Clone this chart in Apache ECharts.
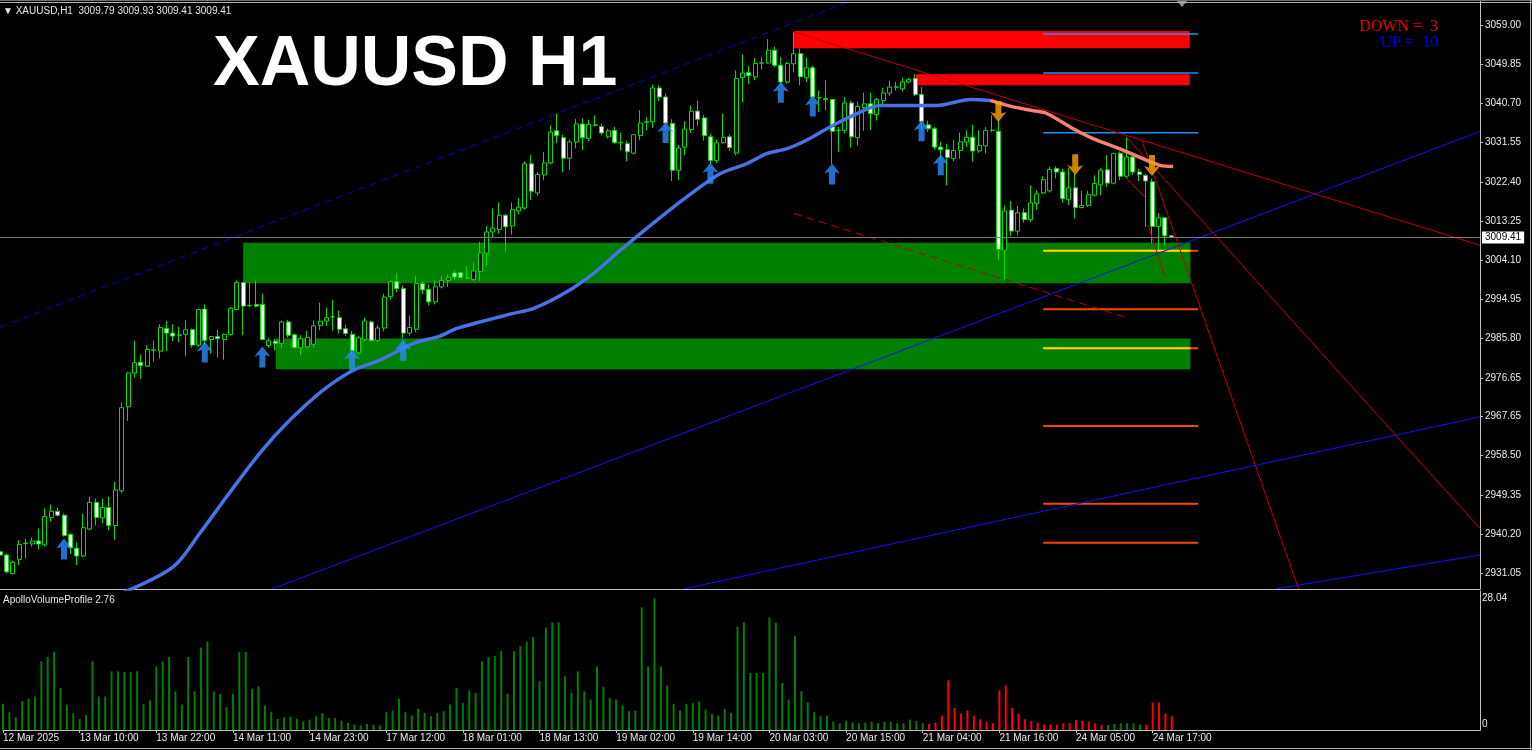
<!DOCTYPE html>
<html><head><meta charset="utf-8">
<script src="https://cdn.jsdelivr.net/npm/echarts@6/dist/echarts.min.js"></script>
<style>html,body{margin:0;padding:0;background:#000;}#c{width:1532px;height:750px;}</style>
</head><body><div id="c"></div>
<script>
// ---------- data ----------
const tickLabels = ['12 Mar 2025','13 Mar 10:00','13 Mar 22:00','14 Mar 11:00','14 Mar 23:00','17 Mar 12:00','18 Mar 01:00','18 Mar 13:00','19 Mar 02:00','19 Mar 14:00','20 Mar 03:00','20 Mar 15:00','21 Mar 04:00','21 Mar 16:00','24 Mar 05:00','24 Mar 17:00'];
const tickIdx = [0,12,24,36,48,60,72,84,96,108,120,132,144,156,168,180];
const priceTicks = [3059.00,3049.85,3040.70,3031.55,3022.40,3013.25,3004.10,2994.95,2985.80,2976.65,2967.65,2958.50,2949.35,2940.20,2931.05];
const volTicks = [0, 28.04];
const symbolName = 'XAUUSD,H1';
const lastBar = [3009.79, 3009.93, 3009.41, 3009.41];
const bidPrice = 3009.41;
const downCount = 3, upCount = 10;

// [open, high, low, close] per H1 bar
const ohlc = [
[2936.1,2937.0,2934.5,2935.3],[2935.3,2935.7,2931.0,2931.4],[2931.0,2934.0,2930.8,2933.6],[2934.3,2938.8,2933.0,2937.8],[2938.0,2939.2,2934.5,2938.1],
[2937.9,2939.4,2937.3,2938.6],[2938.6,2941.5,2936.6,2937.9],[2937.7,2946.2,2937.3,2944.3],[2944.1,2947.1,2943.1,2945.5],[2945.5,2946.4,2944.3,2944.6],
[2944.6,2945.0,2939.6,2939.9],[2940.1,2940.4,2935.5,2937.0],[2936.9,2938.2,2933.0,2935.1],[2935.1,2944.9,2934.8,2941.7],[2941.4,2948.9,2941.1,2947.6],
[2947.6,2948.5,2942.2,2944.1],[2944.0,2948.5,2942.7,2946.4],[2946.4,2948.9,2941.1,2942.2],[2942.2,2952.4,2938.9,2950.5],[2950.3,2971.0,2949.8,2969.7],
[2969.9,2978.0,2966.6,2977.8],[2977.8,2985.3,2976.7,2980.2],[2980.3,2982.1,2976.4,2979.5],[2979.4,2984.3,2979.2,2983.3],[2983.1,2985.4,2980.4,2983.2],
[2982.9,2989.2,2981.2,2988.4],[2988.2,2989.95,2982.9,2987.1],[2987.1,2989.2,2985.2,2986.4],[2986.6,2988.6,2985.0,2986.7],[2986.8,2990.1,2981.7,2987.9],
[2987.9,2988.2,2983.7,2984.3],[2984.3,2992.8,2983.9,2992.6],[2992.7,2993.8,2984.4,2985.4],[2985.6,2986.4,2982.3,2986.3],[2986.3,2987.8,2981.4,2985.8],
[2985.6,2987.0,2980.9,2986.8],[2986.8,2993.2,2986.5,2992.9],[2992.6,2999.4,2992.5,2998.9],[2998.9,2999.0,2986.6,2993.4],[2993.6,2999.0,2993.2,2993.5],
[2993.8,2999.6,2993.1,2993.4],[2993.8,2996.3,2985.4,2985.6],[2984.2,2986.0,2983.6,2985.3],[2985.2,2985.8,2983.1,2984.7],[2984.7,2990.0,2983.6,2989.7],
[2989.7,2990.2,2986.0,2986.6],[2986.7,2987.0,2983.5,2983.7],[2983.7,2986.6,2982.0,2985.8],[2983.9,2987.6,2983.5,2986.1],[2984.5,2990.1,2983.7,2988.8],
[2988.9,2994.2,2987.8,2989.9],[2989.9,2993.1,2988.8,2990.7],[2990.9,2994.8,2987.7,2990.9],[2990.7,2992.3,2987.0,2988.0],[2988.1,2989.0,2986.4,2987.0],
[2986.8,2987.6,2982.2,2983.0],[2982.5,2986.4,2982.1,2986.0],[2985.6,2990.7,2985.2,2989.9],[2989.7,2990.0,2985.0,2985.4],[2985.4,2989.0,2985.0,2988.3],
[2988.3,2996.3,2987.5,2995.5],[2995.6,2999.4,2995.0,2999.1],[2999.1,3001.1,2996.6,2997.5],[2997.5,2998.2,2985.8,2987.1],[2987.1,2991.2,2986.5,2988.4],
[2988.0,3000.5,2987.3,2998.7],[2998.7,2999.2,2996.2,2997.2],[2997.3,2998.5,2993.6,2994.4],[2994.4,2999.4,2993.8,2997.9],[2997.9,3000.4,2997.5,2999.4],
[2999.4,3000.8,2997.9,3000.1],[3001.1,3001.7,2999.6,3000.2],[3001.2,3001.4,2999.8,3000.1],[2999.9,3002.7,2999.7,2999.95],[2999.6,3003.6,2999.2,3001.6],
[3001.5,3008.4,2999.3,3005.8],[3005.8,3012.1,3002.9,3010.7],[3010.7,3016.2,3009.3,3011.6],[3011.3,3017.6,3010.3,3014.6],[3014.6,3014.8,3006.1,3011.9],
[3012.1,3017.6,3010.1,3015.9],[3015.6,3018.6,3014.8,3016.5],[3016.3,3027.2,3015.9,3026.6],[3026.6,3028.7,3018.2,3020.2],[3019.8,3024.7,3019.2,3024.1],
[3024.0,3029.4,3022.8,3026.8],[3026.8,3035.6,3026.5,3034.0],[3034.3,3038.3,3031.5,3033.2],[3032.7,3033.4,3024.6,3027.9],[3027.9,3032.3,3025.2,3031.7],
[3031.7,3037.1,3030.2,3035.9],[3035.9,3037.2,3029.8,3032.7],[3032.5,3036.9,3031.9,3035.8],[3035.6,3037.9,3035.3,3035.7],[3035.3,3036.0,3033.2,3033.8],
[3032.9,3034.8,3032.5,3034.3],[3034.4,3035.2,3031.2,3031.6],[3031.5,3033.9,3029.7,3031.6],[3031.3,3032.0,3027.2,3029.4],[3029.1,3033.6,3028.8,3033.4],
[3033.2,3039.1,3032.1,3036.1],[3036.3,3037.5,3034.4,3036.4],[3036.4,3045.1,3035.0,3044.3],[3044.3,3044.9,3041.2,3042.2],[3042.2,3043.0,3034.4,3036.1],
[3036.0,3037.0,3022.6,3025.1],[3025.1,3031.0,3022.8,3030.3],[3030.5,3036.5,3028.6,3034.7],[3034.6,3040.2,3033.8,3038.9],[3038.9,3041.3,3035.4,3037.0],
[3037.3,3038.0,3032.0,3033.2],[3032.9,3033.6,3026.6,3027.4],[3027.4,3032.3,3026.8,3031.5],[3031.5,3038.3,3031.3,3032.8],[3032.9,3033.5,3029.6,3030.4],
[3029.1,3048.4,3028.6,3046.5],[3046.7,3052.1,3041.0,3047.8],[3047.9,3049.4,3045.2,3047.2],[3046.9,3051.3,3046.1,3050.0],[3050.1,3051.5,3048.6,3050.15],
[3050.1,3055.7,3050.0,3053.1],[3053.1,3053.9,3049.1,3049.6],[3049.6,3051.5,3045.0,3045.7],[3045.7,3050.4,3045.3,3050.0],[3049.95,3057.3,3048.0,3052.3],
[3052.3,3053.5,3044.9,3046.9],[3046.7,3051.4,3045.7,3049.0],[3049.0,3049.5,3041.8,3042.2],[3042.0,3043.7,3038.7,3042.05],[3041.8,3046.2,3039.1,3041.6],
[3041.6,3041.7,3026.6,3034.2],[3034.4,3035.2,3029.4,3034.45],[3034.4,3042.1,3033.7,3040.8],[3040.8,3041.3,3030.4,3032.9],[3032.7,3041.1,3030.9,3040.0],
[3039.7,3043.2,3034.3,3040.6],[3040.6,3043.2,3034.5,3038.3],[3038.1,3042.0,3036.7,3041.6],[3041.4,3044.3,3040.4,3043.1],[3043.1,3046.0,3042.4,3044.5],
[3044.5,3045.7,3043.7,3044.55],[3044.1,3046.7,3043.5,3045.7],[3045.7,3046.7,3045.4,3046.3],[3046.5,3047.5,3042.4,3042.8],[3042.8,3044.5,3034.4,3036.5],
[3035.7,3036.7,3034.1,3034.8],[3034.8,3035.2,3029.9,3030.5],[3030.5,3031.7,3027.4,3029.9],[3029.9,3031.3,3021.6,3028.1],[3027.8,3032.2,3027.2,3029.7],
[3029.7,3033.9,3027.8,3031.7],[3031.7,3034.4,3030.5,3032.8],[3032.8,3035.7,3027.1,3029.6],[3029.6,3034.4,3029.2,3030.9],[3030.8,3035.2,3029.0,3034.4],
[3034.4,3037.9,3034.0,3034.45],[3034.2,3036.7,3004.1,3006.6],[3006.4,3016.9,2999.4,3015.6],[3015.8,3017.9,3009.7,3010.9],[3010.9,3016.8,3009.9,3015.2],
[3015.2,3016.2,3012.9,3013.6],[3013.6,3021.6,3013.0,3017.5],[3017.3,3020.4,3015.9,3019.6],[3019.8,3023.7,3019.6,3022.9],[3020.3,3026.0,3019.9,3025.3],
[3025.5,3026.0,3023.2,3024.7],[3024.7,3025.4,3017.5,3018.5],[3018.3,3025.6,3017.0,3021.0],[3021.0,3024.3,3013.8,3016.4],[3016.4,3020.4,3016.2,3016.9],
[3016.9,3020.3,3016.6,3019.4],[3019.3,3023.9,3019.0,3022.0],[3021.7,3025.6,3019.3,3025.1],[3025.2,3028.6,3021.2,3022.1],[3022.1,3029.2,3021.8,3028.97],
[3029.0,3029.5,3022.8,3023.7],[3023.7,3032.9,3023.1,3028.2],[3028.2,3029.1,3024.1,3024.7],[3024.7,3025.4,3022.6,3024.1],[3023.9,3024.3,3011.9,3022.6],
[3022.4,3023.1,3008.0,3012.0],[3012.0,3015.1,3006.0,3014.0],[3014.0,3014.0,3007.6,3009.8],[3009.79,3009.93,3009.41,3009.41]
];

const volume = [
5.57,3.78,2.71,6.14,6.64,7.14,14.63,15.55,16.62,8.92,
5.42,3.57,2.35,3.21,14.63,7.14,7.14,12.49,12.49,12.34,
12.34,12.49,5.57,6.28,13.56,14.63,15.55,8.21,5.42,15.55,
8.21,17.55,18.77,8.21,7.71,4.85,7.71,16.62,16.62,8.78,
9.28,5.21,3.78,2.35,2.71,2.85,2.35,1.86,2.21,2.93,
3.57,2.57,2.57,2.00,1.50,1.14,1.00,1.28,1.14,1.00,
3.78,4.14,6.64,3.78,3.07,4.50,3.64,2.93,3.64,4.00,
5.42,8.92,5.78,8.42,7.92,14.63,15.55,15.77,16.77,7.71,
16.77,17.84,18.77,19.84,10.42,21.83,22.90,22.90,11.42,7.92,
12.49,8.21,6.49,13.56,9.13,6.78,6.49,5.21,4.00,4.14,
26.11,13.56,28.04,13.56,9.49,5.57,4.14,5.57,5.71,6.06,
4.35,3.42,3.07,4.50,3.64,21.98,22.90,12.13,12.13,12.13,
23.97,22.90,9.99,6.49,19.98,8.28,5.85,3.78,2.93,3.07,
1.78,1.43,2.00,1.64,1.43,1.57,1.78,1.43,1.78,1.78,
1.43,1.43,2.21,1.93,1.43,1.28,1.57,3.07,10.56,4.71,
3.50,4.14,3.07,2.28,1.78,1.43,8.42,9.49,4.71,3.50,
2.28,1.93,1.57,1.14,1.14,1.14,1.43,1.43,2.14,1.93,
1.78,1.43,1.07,1.07,1.28,1.43,1.43,1.43,1.14,1.14,
5.85,5.85,3.50,2.93
];
const volRedRanges = [[145,172],[179,183]];

// moving average, read as [bar index, price]
const maRising = [[19.5,2926.7],[27.1,2932.6],[31.25,2940.45],[35.4,2948.9],[40.6,2959.1],[45.3,2966.8],[50.5,2973.8],[55.2,2978.45],[59.4,2980.8],[64.6,2984.7],[68.75,2986.4],[71.4,2988.2],[80.2,2991.7],[83.3,2992.8],[88.5,2996.7],[92.7,3001.0],[96.9,3006.4],[102.6,3013.4],[107.3,3018.9],[112.5,3024.3],[116.7,3026.65],[119.8,3029.0],[122.9,3030.1],[126.0,3032.1],[129.7,3035.2],[133.9,3038.3],[137.5,3040.2],[142.7,3040.2],[146.4,3040.2],[151.6,3041.6],[154.7,3041.4]];
const maFalling = [[154.7,3041.4],[158.3,3039.9],[161.5,3039.0],[163.5,3038.4],[167.7,3034.8],[170.8,3032.5],[175.0,3030.1],[179.2,3027.4],[181.25,3026.25],[183.3,3026.0]];

const upArrows = [[10,2936.7],[32,2982.7],[41,2981.5],[55,2980.9],[63,2983.1],[104,3033.9],[111,3024.4],[122,3043.3],[127,3040.1],[130,3024.2],[144,3034.3],[147,3026.4]];
const downArrows = [[156,3038.8],[168,3026.4],[180,3026.2]];

// zones: [x start, x end, price top, price bottom]
const supplyZones = [[124.06,185.9,3057.59,3053.55],[143.1,185.9,3047.48,3044.92]];
const demandZones = [[38.0,186.0,3008.18,2998.71],[43.1,186.0,2985.87,2978.64]];

const blueLevels = [3056.89,3047.79,3033.85];
const yellowLevels = [3006.32,2983.54];
const orangeLevels = [3006.32,2992.64,2983.54,2965.41,2947.28,2938.17];
const levelStart = 163.0, levelEnd = 187.2, yellowEnd = 186.0;

const channelDashed = [[0,2988.55],[140.6,3069.0]];
const channelBlue = [
  [[42.5,2927.4],[231.25,3034.15]],
  [[106.8,2927.4],[231.25,2967.56]],
  [[199.3,2927.4],[231.25,2935.32]]
];
const redLines = [
  [[124.06,3057.35],[231.25,3007.6]],
  [[176.0,3032.85],[231.25,2941.5]],
  [[178.4,3032.1],[202.9,2927.4]],
  [[175.9,3023.38],[179.0,3018.72]],
  [[179.4,3012.26],[182.0,3000.21]]
];
const redDashed = [[124.06,3014.99],[176.0,2990.74]];

// ---------- chart ----------
const FONT = '"Liberation Sans", Arial, sans-serif';
const XMAX = 231.25;
const chart = echarts.init(document.getElementById('c'), null, {renderer:'canvas'});

function seg(points, color, width, type, z) {
  return {type:'line', xAxisIndex:0, yAxisIndex:0, data:points, showSymbol:false, symbol:'none',
    silent:true, z:z||4, lineStyle:{color:color, width:width, type:type||'solid'}, animation:false};
}
function zoneSeries(zones, color) {
  return {type:'custom', xAxisIndex:0, yAxisIndex:0, z:1, silent:true, data:zones,
    encode:{x:[0,1], y:[2,3]},
    renderItem:function(params, api){
      const a = api.coord([api.value(0), api.value(2)]);
      const b = api.coord([api.value(1), api.value(3)]);
      return {type:'rect', shape:{x:a[0], y:a[1], width:b[0]-a[0], height:b[1]-a[1]}, style:{fill:color}};
    }};
}
function isRed(i){ return volRedRanges.some(r => i>=r[0] && i<=r[1]); }

const series = [];
series.push(zoneSeries(demandZones, '#008000'));
series.push(zoneSeries(supplyZones, '#ff0000'));
series.push({
  type:'candlestick', xAxisIndex:0, yAxisIndex:0, z:3, barWidth:4.5,
  encode:{x:0, y:[1,2,3,4]},
  data: ohlc.map((r,i)=>[i, r[0], r[3], r[2], r[1]]),
  itemStyle:{color:'#000000', color0:'#ffffff', borderColor:'#00e000', borderColor0:'#00e000', borderColorDoji:'#00e000', borderWidth:1},
  markLine:{silent:true, symbol:'none', animation:false, data:[{yAxis:bidPrice}],
    lineStyle:{color:'#7a7a7a', type:'solid', width:1},
    label:{position:'end', distance:2, formatter: bidPrice.toFixed(2), backgroundColor:'#ffffff', color:'#000000', padding:[1,3,1,3], fontSize:10, fontFamily:FONT}}
});
orangeLevels.forEach(p => series.push(seg([[levelStart,p],[levelEnd,p]], '#ff4500', 2, 'solid', 4)));
yellowLevels.forEach(p => series.push(seg([[levelStart,p],[yellowEnd,p]], '#ffd700', 2, 'solid', 4)));
blueLevels.forEach(p => series.push(seg([[levelStart,p],[levelEnd,p]], '#1e90ff', 1.5, 'solid', 4)));
series.push(seg(channelDashed, '#0000c8', 1, [7,5], 4));
channelBlue.forEach(s => series.push(seg(s, '#1010ff', 1, 'solid', 4)));
redLines.forEach(s => series.push(seg(s, '#c00000', 1, 'solid', 4)));
series.push(seg(redDashed, '#c00000', 1, [8,5], 4));
series.push({type:'line', xAxisIndex:0, yAxisIndex:0, data:maRising, smooth:0.3, showSymbol:false, symbol:'none', silent:true, z:5, lineStyle:{color:'#4673e6', width:3.5}});
series.push({type:'line', xAxisIndex:0, yAxisIndex:0, data:maFalling, smooth:0.3, showSymbol:false, symbol:'none', silent:true, z:5, lineStyle:{color:'#fa8072', width:3.5}});
series.push({type:'scatter', xAxisIndex:0, yAxisIndex:0, z:6, silent:true, data:upArrows,
  symbol:'path://M8,0 L16,10 L11,8.5 L11,21 L5,21 L5,8.5 L0,10 Z', symbolSize:[16,21], symbolKeepAspect:false, itemStyle:{color:'#2a8cff'}});
series.push({type:'scatter', xAxisIndex:0, yAxisIndex:0, z:6, silent:true, data:downArrows,
  symbol:'path://M5,0 L11,0 L11,12.5 L16,11 L8,21 L0,11 L5,12.5 Z', symbolSize:[16,21], symbolKeepAspect:false, itemStyle:{color:'#ffa500'}});
series.push({type:'bar', xAxisIndex:1, yAxisIndex:1, barWidth:2, silent:true,
  data: volume.map((v,i)=>[i,v]),
  itemStyle:{color: p => isRed(p.dataIndex) ? '#ff0000' : '#008000'}});

const axisGray = '#c0c0c0';
const labelColor = '#ececec';

chart.setOption({
  backgroundColor:'#000000',
  animation:false,
  grid:[{left:0, top:0, width:1480, height:589}, {left:0, top:591, width:1480, height:139}],
  xAxis:[
    {gridIndex:0, type:'value', min:0, max:XMAX, axisLine:{show:true, onZero:false, lineStyle:{color:axisGray}}, axisTick:{show:false}, axisLabel:{show:false}, splitLine:{show:false}},
    {gridIndex:1, type:'value', min:0, max:XMAX, axisLine:{show:true, onZero:false, lineStyle:{color:axisGray}},
      axisTick:{show:true, length:3, customValues:tickIdx, lineStyle:{color:axisGray}},
      axisLabel:{customValues:tickIdx, formatter: v => tickLabels[tickIdx.indexOf(Math.round(v))] || '', align:'left', margin:3, color:labelColor, fontSize:10, fontFamily:FONT},
      splitLine:{show:false}}
  ],
  yAxis:[
    {gridIndex:0, type:'value', position:'right', min:2927.39, max:3064.83,
      axisLine:{show:true, onZero:false, lineStyle:{color:axisGray}},
      axisTick:{show:true, length:3, customValues:priceTicks, lineStyle:{color:axisGray}},
      axisLabel:{customValues:priceTicks, formatter: v => v.toFixed(2), margin:5, color:labelColor, fontSize:10, fontFamily:FONT},
      splitLine:{show:false}},
    {gridIndex:1, type:'value', position:'right', min:0, max:29.59,
      axisLine:{show:true, onZero:false, lineStyle:{color:axisGray}}, axisTick:{show:false},
      axisLabel:{customValues:volTicks, margin:2, color:labelColor, fontSize:10, fontFamily:FONT,
        formatter: v => v === 0 ? '{z|0}' : '{t|' + v.toFixed(2) + '}',
        rich:{z:{padding:[0,0,12,0], color:labelColor, fontSize:10, fontFamily:FONT}, t:{color:labelColor, fontSize:10, fontFamily:FONT}}},
      splitLine:{show:false}}
  ],
  graphic:[
    {type:'text', z:100, style:{x:213, y:66, text:'XAUUSD H1', fill:'#ffffff', font:'bold 70px ' + FONT, verticalAlign:'middle'}},
    {type:'text', z:100, style:{x:3, y:11, text:'\u25BC ' + symbolName + '  ' + lastBar.map(v=>v.toFixed(2)).join(' '), fill:'#e8e8e8', font:'10px ' + FONT, verticalAlign:'middle'}},
    {type:'text', z:100, style:{x:1438, y:27, text:'DOWN =  ' + downCount, fill:'#e60000', font:'16px "Liberation Serif", "Times New Roman", serif', align:'right', verticalAlign:'middle'}},
    {type:'text', z:100, style:{x:1438, y:43, text:'UP =  ' + upCount, fill:'#0000e6', font:'16px "Liberation Serif", "Times New Roman", serif', align:'right', verticalAlign:'middle'}},
    {type:'text', z:100, style:{x:3, y:600, text:'ApolloVolumeProfile 2.76', fill:'#e6e6e6', font:'10px ' + FONT, verticalAlign:'middle'}},
    {type:'polygon', z:100, shape:{points:[[1177,1],[1187,1],[1182,7]]}, style:{fill:'#909090'}},
    {type:'line', z:100, shape:{x1:0, y1:0.5, x2:1532, y2:0.5}, style:{stroke:'#6e6e6e', lineWidth:1}},
    {type:'line', z:100, shape:{x1:0, y1:2.5, x2:1532, y2:2.5}, style:{stroke:'#b0b0b0', lineWidth:1}},
    {type:'line', z:100, shape:{x1:1530.5, y1:0, x2:1530.5, y2:750}, style:{stroke:'#b0b0b0', lineWidth:1}},
    {type:'line', z:100, shape:{x1:0, y1:748.5, x2:1532, y2:748.5}, style:{stroke:'#b0b0b0', lineWidth:1}}
  ],
  series: series
});
</script>
</body></html>
